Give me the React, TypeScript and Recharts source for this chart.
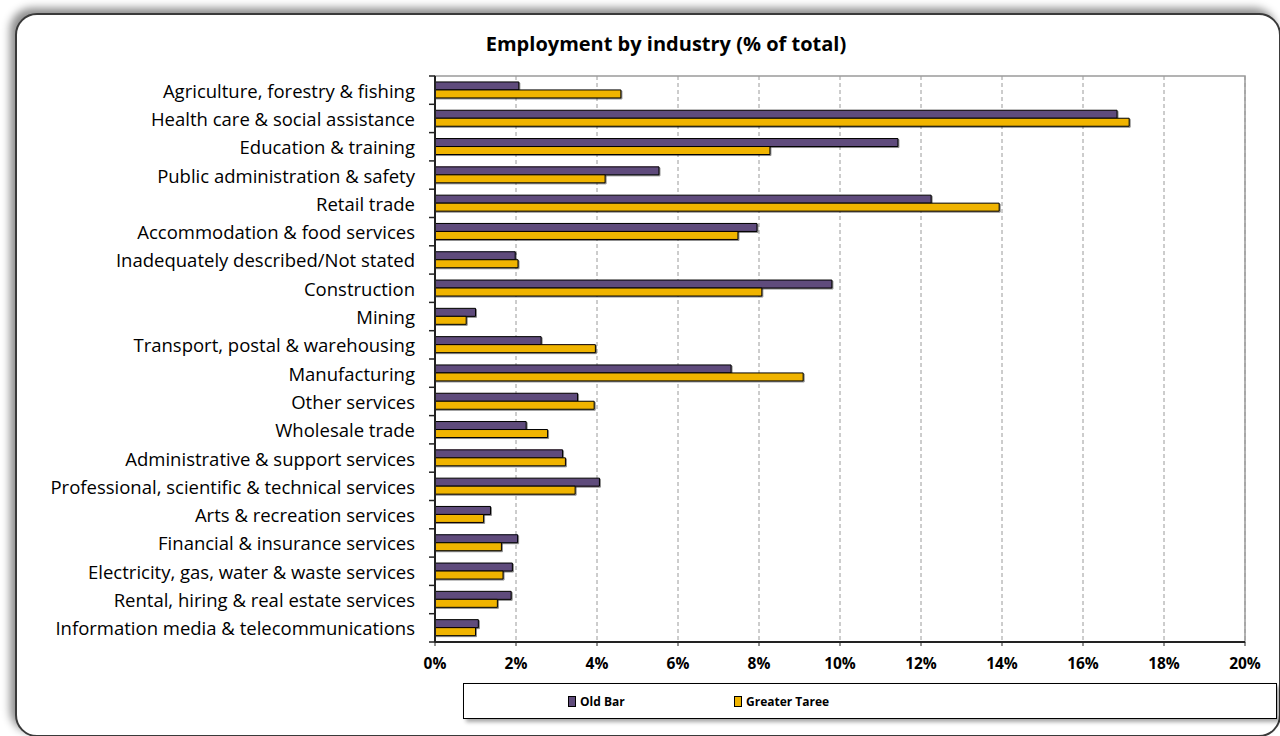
import React from 'react';
import { BarChart, Bar, XAxis, YAxis, CartesianGrid, ReferenceArea } from 'recharts';

const categories = [
  'Agriculture, forestry & fishing',
  'Health care & social assistance',
  'Education & training',
  'Public administration & safety',
  'Retail trade',
  'Accommodation & food services',
  'Inadequately described/Not stated',
  'Construction',
  'Mining',
  'Transport, postal & warehousing',
  'Manufacturing',
  'Other services',
  'Wholesale trade',
  'Administrative & support services',
  'Professional, scientific & technical services',
  'Arts & recreation services',
  'Financial & insurance services',
  'Electricity, gas, water & waste services',
  'Rental, hiring & real estate services',
  'Information media & telecommunications',
];

const oldBar = [2.07, 16.84, 11.43, 5.53, 12.25, 7.95, 1.98, 9.8, 1.0, 2.62, 7.31, 3.52, 2.25, 3.15, 4.06, 1.37, 2.04, 1.91, 1.88, 1.07];
const greaterTaree = [4.59, 17.14, 8.27, 4.2, 13.93, 7.48, 2.05, 8.07, 0.77, 3.96, 9.09, 3.93, 2.78, 3.22, 3.46, 1.2, 1.64, 1.68, 1.54, 1.0];

const xTicks = [0, 2, 4, 6, 8, 10, 12, 14, 16, 18, 20];
const seriesKeys = ['oldBar', 'greaterTaree'];
const seriesNames = ['Old Bar', 'Greater Taree'];
const seriesColors = ['#5F4B7B', '#F0B400'];

const data = categories.map((name, i) => ({ name, oldBar: oldBar[i], greaterTaree: greaterTaree[i] }));

const W = 1280;
const H = 736;
const margin = { top: 76, right: 35, bottom: 54, left: 0 };
const xAxisHeight = 40;
const rowH = (H - margin.top - margin.bottom - xAxisHeight) / categories.length;
const font = '"Open Sans", Lato, sans-serif';

function CategoryTick(props: any) {
  const { x, y, payload, index } = props;
  return (
    <g>
      <text x={x} y={y} textAnchor="end" dominantBaseline="central" fontSize={18.5} fontFamily={font} fill="#000">
        {payload.value}
      </text>
      <line x1={x + 14} x2={x + 20} y1={y - rowH / 2} y2={y - rowH / 2} stroke="#222" strokeWidth={1.5} />
      {index === categories.length - 1 && (
        <line x1={x + 14} x2={x + 20} y1={y + rowH / 2} y2={y + rowH / 2} stroke="#222" strokeWidth={1.5} />
      )}
    </g>
  );
}

export default function App() {
  return (
    <div style={{ position: 'absolute', left: 0, top: 0, width: W, height: H, overflow: 'hidden', background: '#fff', fontFamily: font }}>
      <div
        style={{
          position: 'absolute', left: 15, top: 13, width: 1266, height: 724,
          border: '2px solid #3a3a3a', borderRadius: 22, boxSizing: 'border-box',
          boxShadow: '-5px -5px 9px rgba(0,0,0,0.45)', background: '#fff',
        }}
      />
      <div style={{ position: 'absolute', left: 416, top: 30, width: 500, textAlign: 'center', fontWeight: 700, fontSize: 20, color: '#000' }}>
        Employment by industry (% of total)
      </div>
      <div style={{ position: 'absolute', left: 0, top: 0 }}>
        <BarChart width={W} height={H} data={data} layout="vertical" margin={margin} barCategoryGap="21%" barGap={0}>
          <defs>
            <filter id="barShadow" x="-5%" y="-20%" width="110%" height="160%">
              <feDropShadow dx="1" dy="1" stdDeviation="0.6" floodColor="#000" floodOpacity="0.45" />
            </filter>
          </defs>
          <CartesianGrid horizontal={false} stroke="#9a9a9a" strokeDasharray="4 3" />
          <ReferenceArea x1={0} x2={20} fill="none" stroke="#9a9a9a" strokeWidth={1.5} />
          <XAxis
            type="number"
            domain={[0, 20]}
            ticks={xTicks}
            height={xAxisHeight}
            tickFormatter={(v: number) => `${v}%`}
            tick={{ fontSize: 15.5, fontWeight: 700, fill: '#000', fontFamily: font }}
            tickLine={{ stroke: '#222' }}
            tickSize={4}
            tickMargin={12}
            axisLine={{ stroke: '#222', strokeWidth: 2 }}
            interval={0}
          />
          <YAxis
            type="category"
            dataKey="name"
            width={435}
            interval={0}
            tickLine={false}
            tickSize={6}
            tickMargin={14}
            tick={<CategoryTick />}
            axisLine={{ stroke: '#222', strokeWidth: 2 }}
          />
          {seriesKeys.map((k, i) => (
            <Bar
              key={k}
              dataKey={k}
              name={seriesNames[i]}
              fill={seriesColors[i]}
              stroke="#000"
              strokeWidth={1}
              filter="url(#barShadow)"
              isAnimationActive={false}
            />
          ))}
        </BarChart>
      </div>
      <div
        style={{
          position: 'absolute', left: 463, top: 683, width: 814, height: 36, boxSizing: 'border-box',
          border: '1px solid #000', background: '#fff', boxShadow: '3px 3px 4px rgba(0,0,0,0.35)',
          display: 'flex', alignItems: 'center', paddingLeft: 104,
        }}
      >
        {seriesNames.map((n, i) => (
          <div key={n} style={{ display: 'flex', alignItems: 'center', width: 166, fontSize: 12, fontWeight: 700, color: '#000' }}>
            <span style={{ display: 'inline-block', width: 6, height: 9, background: seriesColors[i], border: '1px solid #000', marginRight: 4 }} />
            {n}
          </div>
        ))}
      </div>
    </div>
  );
}
